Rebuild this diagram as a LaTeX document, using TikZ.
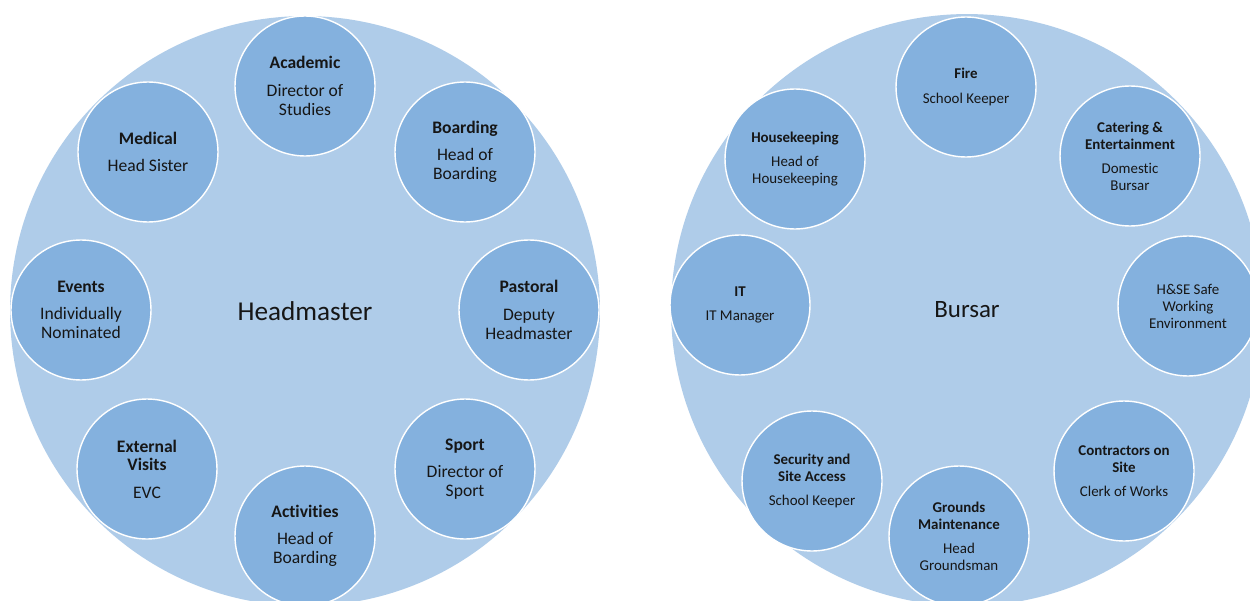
\documentclass[tikz,border=0pt]{standalone}
\usepackage{fontspec}
\setmainfont{Carlito}[Ligatures=NoCommon]
\usetikzlibrary{positioning}
\definecolor{ringblue}{RGB}{175,204,233}
\definecolor{unitblue}{RGB}{132,177,222}
\definecolor{inktext}{RGB}{22,22,22}

\begin{document}
\begin{tikzpicture}[
    x=0.02cm, y=-0.02cm,
    hub/.style={circle,fill=ringblue,inner sep=0pt,
        minimum size=11.8cm,text=inktext},
    unit/.style={circle,fill=unitblue,draw=white,line width=0.8pt,
        inner sep=0pt,minimum size=2.8cm,align=center,text=inktext},
    lunit/.style={unit,font=\fontsize{10}{10.8}\selectfont},
    runit/.style={unit,font=\fontsize{8.5}{9.7}\selectfont},
    ]
    \fill[white] (0,0) rectangle (1250,601);
    \useasboundingbox (0,0) rectangle (1250,601);
    % left ring
    \node[hub,font=\fontsize{15.5}{18}\selectfont] (head) at (305,311) {Headmaster};
    \node[lunit] (acad) at (305,86) {\textbf{Academic}\\[4.7pt]Director of\\Studies};
    \node[lunit] (board) at (465,152) {\textbf{Boarding}\\[4.7pt]Head of\\Boarding};
    \node[lunit] (past) at (529,310) {\textbf{Pastoral}\\[4.7pt]Deputy\\Headmaster};
    \node[lunit] (sport) at (465,469) {\textbf{Sport}\\[4.7pt]Director of\\Sport};
    \node[lunit] (activ) at (305,536) {\textbf{Activities}\\[4.7pt]Head of\\Boarding};
    \node[lunit] (visits) at (147,469) {\textbf{External}\\\textbf{Visits}\\[4.7pt]EVC};
    \node[lunit] (events) at (81,310) {\textbf{Events}\\[4.7pt]Individually\\Nominated};
    \node[lunit] (medic) at (148,152) {\textbf{Medical}\\[4.7pt]Head Sister};
    % right ring
    \node[hub,minimum size=11.84cm,font=\fontsize{14.2}{17}\selectfont] (bursar) at (967,310) {Bursar};
    \node[runit] (fire) at (966,87) {\textbf{Fire}\\[4pt]School Keeper};
    \node[runit] (cater) at (1130,156) {\textbf{Catering \&}\\\textbf{Entertainment}\\[4pt]Domestic\\Bursar};
    \node[runit] (hse) at (1188,306) {H\&SE Safe\\Working\\Environment};
    \node[runit] (contr) at (1124,471) {\textbf{Contractors on}\\\textbf{Site}\\[4pt]Clerk of Works};
    \node[runit] (ground) at (959,536) {\textbf{Grounds}\\\textbf{Maintenance}\\[4pt]Head\\Groundsman};
    \node[runit] (secur) at (812,481) {\textbf{Security and}\\\textbf{Site Access}\\[4pt]School Keeper};
    \node[runit] (it) at (740,305) {\textbf{IT}\\[4pt]IT Manager};
    \node[runit] (house) at (795,159) {\textbf{Housekeeping}\\[4pt]Head of\\Housekeeping};
\end{tikzpicture}
\end{document}
